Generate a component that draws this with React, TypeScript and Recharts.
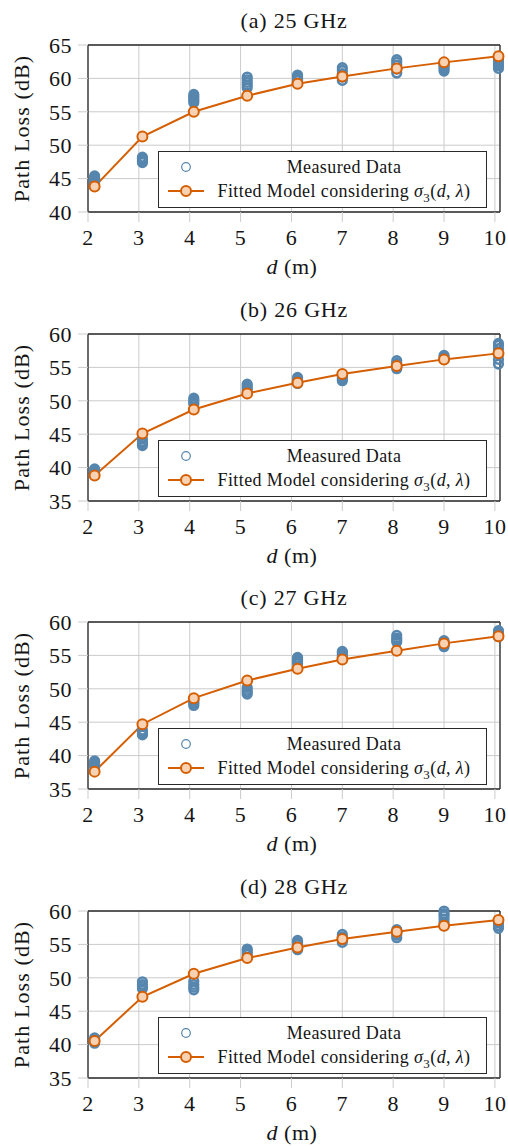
import { ComposedChart, Line, Scatter, XAxis, YAxis, CartesianGrid, Legend, Label } from 'recharts';

const distances = [2.13, 3.07, 4.08, 5.13, 6.12, 7.0, 8.07, 9.0, 10.07];
const xTicks = [2, 3, 4, 5, 6, 7, 8, 9, 10];

const panelTitles = ['(a) 25 GHz', '(b) 26 GHz', '(c) 27 GHz', '(d) 28 GHz'];
const yDomains = [[40, 65], [35, 60], [35, 60], [35, 60]];
const yTicks = [[40, 45, 50, 55, 60, 65], [35, 40, 45, 50, 55, 60], [35, 40, 45, 50, 55, 60], [35, 40, 45, 50, 55, 60]];

// measured path loss (dB), one group of readings per distance
const measured25 = [
  [44.2, 44.5, 44.8, 45.1, 45.4],
  [47.4, 47.6, 47.8, 48.0, 48.2],
  [56.4, 56.7, 57.0, 57.3, 57.6],
  [58.6, 59.0, 59.4, 59.8, 60.2],
  [59.7, 59.9, 60.1, 60.3, 60.5],
  [59.7, 60.2, 60.7, 61.2, 61.6],
  [60.8, 61.4, 62.0, 62.4, 62.8],
  [61.1, 61.4, 61.7, 62.0, 62.2],
  [61.5, 61.9, 62.2, 62.5, 62.8],
];
const measured26 = [
  [38.9, 39.2, 39.5, 39.8],
  [43.3, 43.6, 43.9, 44.3],
  [49.5, 49.8, 50.1, 50.4],
  [51.6, 51.9, 52.2, 52.5],
  [52.6, 52.9, 53.2, 53.5],
  [53.0, 53.3, 53.6, 53.9],
  [54.8, 55.2, 55.6, 56.0],
  [56.2, 56.5, 56.8],
  [55.5, 56.2, 57.0, 57.8, 58.3, 58.6],
];
const measured27 = [
  [38.3, 38.6, 38.9, 39.2],
  [43.1, 43.3, 43.6, 43.8],
  [47.5, 47.8, 48.0, 48.3],
  [49.2, 49.5, 49.8, 50.2],
  [53.8, 54.1, 54.4, 54.7],
  [54.8, 55.1, 55.4, 55.6],
  [57.0, 57.3, 57.6, 58.0],
  [56.3, 56.6, 56.9, 57.2],
  [57.8, 58.1, 58.4, 58.7],
];
const measured28 = [
  [40.2, 40.5, 40.8, 41.0],
  [48.4, 48.7, 49.0, 49.4],
  [48.2, 48.6, 49.0, 49.5],
  [53.5, 53.8, 54.1, 54.3],
  [54.2, 54.6, 55.0, 55.3, 55.6],
  [55.3, 55.7, 56.1, 56.5],
  [56.0, 56.4, 56.8, 57.2],
  [57.8, 58.3, 58.8, 59.3, 59.6, 60.0],
  [57.4, 57.8, 58.2, 58.6],
];

// fitted model considering sigma3(d, lambda)
const fitted25 = [43.8, 51.3, 55.0, 57.4, 59.2, 60.3, 61.5, 62.4, 63.3];
const fitted26 = [38.8, 45.1, 48.7, 51.1, 52.7, 54.0, 55.2, 56.2, 57.1];
const fitted27 = [37.6, 44.7, 48.6, 51.25, 53.0, 54.4, 55.7, 56.8, 57.85];
const fitted28 = [40.55, 47.15, 50.6, 52.95, 54.55, 55.8, 56.9, 57.8, 58.65];

const measuredSets = [measured25, measured26, measured27, measured28];
const fittedSets = [fitted25, fitted26, fitted27, fitted28];

const BLUE = '#5686ae';
const ORANGE = '#d55e00';
const PEACH = '#f9d2b4';
const GRID = '#cbcbcb';
const FRAME = '#2a2a2a';
const FONT = '"Liberation Serif", "Times New Roman", serif';
const TEXT = '#151515';

const renderLegend = () => (
  <div
    style={{
      width: 329,
      height: 57,
      boxSizing: 'border-box',
      border: `1.3px solid ${FRAME}`,
      background: '#fff',
      position: 'relative',
      fontFamily: FONT,
      fontSize: 18,
      letterSpacing: 0.4,
      color: TEXT,
    }}
  >
    <svg width={40} height={57} style={{ position: 'absolute', left: 7, top: 0 }}>
      <circle cx={20} cy={15} r={4.3} fill="none" stroke={BLUE} strokeWidth={1.2} />
      <line x1={2} y1={39} x2={38} y2={39} stroke={ORANGE} strokeWidth={2} />
      <circle cx={20} cy={39} r={5} fill={PEACH} stroke={ORANGE} strokeWidth={2} />
    </svg>
    <div style={{ position: 'absolute', left: 53, width: 264, top: 4, textAlign: 'center', lineHeight: '22px' }}>
      Measured Data
    </div>
    <div style={{ position: 'absolute', left: 53, width: 264, top: 28, textAlign: 'center', lineHeight: '22px', whiteSpace: 'nowrap' }}>
      Fitted Model considering <i>σ</i>
      <sub style={{ fontSize: 13 }}>3</sub>(<i>d</i>, <i>λ</i>)
    </div>
  </div>
);

const Panel = ({ index }: { index: number }) => {
  const measured = measuredSets[index].flatMap((group, i) => group.map((pl) => ({ d: distances[i], pl })));
  const fitted = fittedSets[index].map((pl, i) => ({ d: distances[i], pl }));
  const tickStyle = { fontSize: 22, fill: TEXT, fontFamily: FONT, letterSpacing: 0.5 };

  return (
    <ComposedChart width={508} height={289} margin={{ top: 35, right: 0, bottom: 0, left: 0 }} style={{ fontFamily: FONT }}>
      <CartesianGrid stroke={GRID} strokeWidth={1} />
      <XAxis
        dataKey="d"
        type="number"
        domain={[2, 10.1]}
        ticks={xTicks}
        interval={0}
        height={77}
        tickSize={10}
        tickMargin={7}
        axisLine={{ stroke: FRAME, strokeWidth: 1.3 }}
        tickLine={{ stroke: GRID }}
        tick={tickStyle}
      >
        <Label
          content={({ viewBox }: any) => (
            <text x={viewBox.x + viewBox.width / 2 - 2} y={viewBox.y + 62} textAnchor="middle" fontSize={22} fill={TEXT} fontFamily={FONT} letterSpacing={0.5}>
              <tspan fontStyle="italic">d</tspan>
              <tspan> (m)</tspan>
            </text>
          )}
        />
      </XAxis>
      <XAxis
        xAxisId="top"
        orientation="top"
        type="number"
        domain={[2, 10.1]}
        ticks={xTicks}
        interval={0}
        height={10}
        tickSize={10}
        axisLine={{ stroke: FRAME, strokeWidth: 1.3 }}
        tickLine={{ stroke: GRID }}
        tick={false}
      >
        <Label
          content={({ viewBox }: any) => (
            <text x={viewBox.x + viewBox.width / 2} y={viewBox.y - 7} textAnchor="middle" fontSize={22} fill={TEXT} fontFamily={FONT} letterSpacing={0.8}>
              {panelTitles[index]}
            </text>
          )}
        />
      </XAxis>
      <YAxis
        type="number"
        domain={yDomains[index]}
        ticks={yTicks[index]}
        interval={0}
        width={88}
        tickSize={10}
        tickMargin={6}
        axisLine={{ stroke: FRAME, strokeWidth: 1.3 }}
        tickLine={{ stroke: GRID }}
        tick={tickStyle}
      >
        <Label
          content={({ viewBox }: any) => {
            const cx = 29;
            const cy = viewBox.y + viewBox.height / 2;
            return (
              <text x={cx} y={cy} transform={`rotate(-90, ${cx}, ${cy})`} textAnchor="middle" fontSize={22} fill={TEXT} fontFamily={FONT} letterSpacing={1.1}>
                Path Loss (dB)
              </text>
            );
          }}
        />
      </YAxis>
      <YAxis
        yAxisId="right"
        orientation="right"
        type="number"
        domain={yDomains[index]}
        ticks={yTicks[index]}
        interval={0}
        width={8}
        tickSize={10}
        axisLine={{ stroke: FRAME, strokeWidth: 1.3 }}
        tickLine={{ stroke: GRID }}
        tick={false}
      />
      <Scatter
        data={measured}
        dataKey="pl"
        isAnimationActive={false}
        shape={(p: any) => <circle cx={p.cx} cy={p.cy} r={4.3} fill="none" stroke={BLUE} strokeWidth={2.6} />}
      />
      <Line
        data={fitted}
        dataKey="pl"
        type="linear"
        stroke={ORANGE}
        strokeWidth={2}
        dot={{ r: 5, fill: PEACH, stroke: ORANGE, strokeWidth: 2 }}
        activeDot={false}
        isAnimationActive={false}
      />
      <Legend
        content={renderLegend}
        layout="vertical"
        align="center"
        verticalAlign="middle"
        width={329}
        height={57}
        wrapperStyle={{ left: 158, top: 151, width: 329, height: 57 }}
      />
    </ComposedChart>
  );
};

export default function App() {
  return (
    <div style={{ position: 'absolute', left: 0, top: 0, width: 508, height: 1146, overflow: 'hidden', background: '#fff' }}>
      {[0, 1, 2, 3].map((i) => (
        <div key={i} style={{ position: 'absolute', left: 0, top: i * 288.7, width: 508, height: 289 }}>
          <Panel index={i} />
        </div>
      ))}
    </div>
  );
}
